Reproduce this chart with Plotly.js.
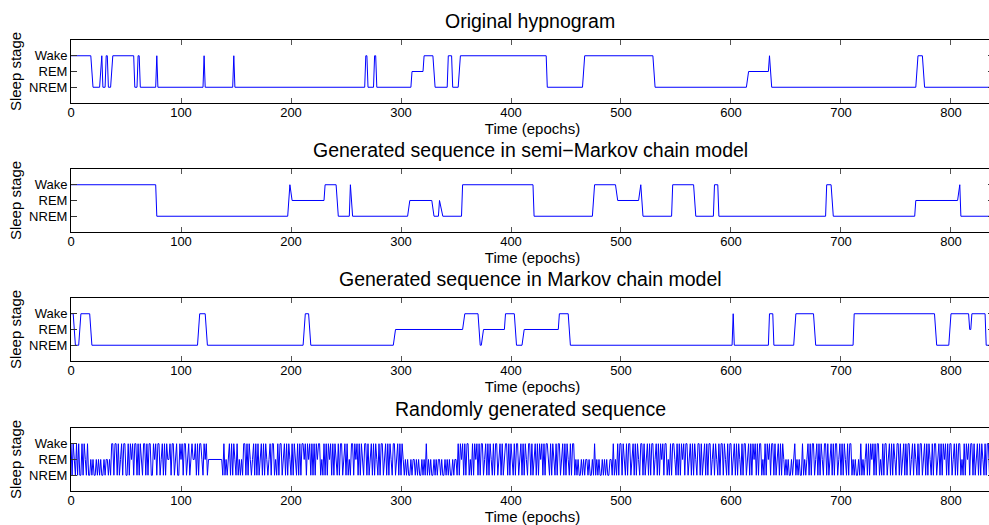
<!DOCTYPE html>
<html>
<head>
<meta charset="utf-8">
<script src="https://cdn.plot.ly/plotly-3.0.1.min.js"></script>
<style>
html,body{margin:0;padding:0;background:#fff;overflow:hidden;}
#chart{width:994px;height:525px;}
</style>
</head>
<body>
<div id="chart"></div>
<script>
// ---- data ----
const stageCodes = [0, 1, 2];
const stageLabels = ['NREM', 'REM', 'Wake'];
const xTicks = [0, 100, 200, 300, 400, 500, 600, 700, 800];
const panelTitles = [
  'Original hypnogram',
  'Generated sequence in semi\u2212Markov chain model',
  'Generated sequence in Markov chain model',
  'Randomly generated sequence'
];

// Original hypnogram: line vertices (epoch, stage)
const origEpochs = [0,18,20,26,28,29,31,32,33,34,36,38,57,58,60,61,62,63,77,78,79,120,121,122,147,148,149,267,268,269,270,275,276,277,278,309,310,320,321,329,331,342,343,346,347,352,354,432,433,465,467,529,531,614,616,634,635,637,768,770,774,776,840];
const origStages = [2,2,0,0,2,0,0,2,2,0,0,2,2,0,0,2,2,0,0,2,0,0,2,0,0,2,0,0,2,2,0,0,2,2,0,0,1,1,2,2,0,0,2,2,0,0,2,2,0,0,2,2,0,0,1,1,2,0,0,2,2,0,0];

// Semi-Markov generated sequence
const semiEpochs = [0,77,78,197,199,201,230,231,241,243,253,254,256,306,308,328,330,334,335,338,355,356,420,421,474,476,495,497,516,518,520,546,547,566,568,584,585,588,589,686,687,691,693,767,768,806,808,809,840];
const semiStages = [2,2,0,0,2,1,1,2,2,0,0,2,0,0,1,1,0,0,1,0,0,2,2,0,0,2,2,1,1,2,0,0,2,2,0,0,2,2,0,0,2,2,0,0,1,1,2,0,0];

// Markov generated sequence
const markovEpochs = [0,2,4,7,9,17,19,115,117,122,124,211,213,216,218,293,295,356,358,370,372,373,375,394,395,403,405,410,412,443,444,452,454,601,602,603,634,635,638,639,657,659,675,677,711,712,785,787,798,800,816,817,818,819,831,832,840];
const markovStages = [2,2,0,0,2,2,0,0,2,2,0,0,2,2,0,0,1,1,2,2,0,0,1,1,2,2,0,0,1,1,2,2,0,0,2,0,0,2,2,0,0,2,2,0,0,2,2,0,0,2,2,1,1,2,2,0,0];

// Randomly generated sequence: one stage per epoch (0..839)
const randomStages = [
2,0,2,1,0,2,0,2,0,0,2,0,2,1,0,2,0,0,
1,0,1,0,0,1,0,1,0,1,0,0,1,0,1,1,0,1,0,2,
2,0,2,2,0,2,0,1,2,0,2,2,0,0,2,0,2,1,2,0,2,2,0,2,0,2,1,0,2,2,0,2,0,2,2,
0,0,2,1,2,0,2,2,0,1,2,0,2,0,2,1,1,2,
0,2,2,0,1,2,0,0,2,1,2,0,2,2,0,1,2,0,1,2,1,1,2,0,2,0,2,2,1,0,2,1,2,0,1,1,
1,1,1,1,1,1,1,1,1,1,1,
0,2,0,1,0,1,2,0,2,0,2,1,0,2,0,1,0,1,0,2,2,0,2,0,2,1,0,1,2,0,2,0,2,0,1,2,0,2,0,2,1,0,1,2,
0,2,2,0,1,0,2,0,2,2,0,1,2,0,2,0,2,1,0,2,0,2,1,0,2,0,2,0,2,2,
1,2,0,2,1,2,0,2,0,2,0,2,1,2,2,0,1,0,2,0,2,0,2,1,2,0,2,0,
2,1,0,2,0,2,2,0,1,2,0,2,0,1,0,2,2,0,2,1,2,0,2,0,2,1,0,2,2,0,2,0,1,2,0,2,0,2,1,0,2,0,2,2,0,1,2,0,2,0,2,1,0,2,2,0,1,2,0,2,0,2,1,
0,1,0,1,0,0,1,0,1,1,0,1,0,1,0,0,1,0,1,0,2,0,1,0,1,0,0,1,0,1,0,1,1,0,1,0,0,1,0,1,0,1,0,0,1,0,1,1,0,
2,0,2,1,2,0,2,0,2,2,0,1,0,2,0,2,1,2,0,2,0,2,2,0,1,2,0,2,0,2,
1,0,2,0,2,2,0,1,2,0,2,0,1,2,2,0,2,0,2,1,0,2,0,2,2,0,1,2,0,2,
0,2,1,0,2,2,0,2,0,1,2,0,2,0,2,1,2,0,2,0,2,2,1,0,2,0,2,1,0,2,
0,2,2,0,1,2,0,2,0,2,1,0,2,0,2,2,
0,1,0,1,0,0,1,0,1,0,1,1,0,1,0,0,1,0,2,0,1,0,1,0,0,1,0,1,0,1,0,0,1,1,0,2,0,1,0,2,0,2,
2,0,2,1,0,2,0,2,2,0,1,2,0,2,0,2,1,0,2,2,0,2,0,1,2,0,2,0,2,2,
0,1,2,0,2,0,2,1,2,0,2,2,0,1,0,2,0,2,2,1,0,2,0,2,0,2,1,2,0,2,
2,0,1,2,0,2,0,2,1,0,2,2,0,2,0,1,2,0,2,0,2,2,0,1,2,0,2,1,0,2,
0,2,2,0,2,1,0,2,0,2,2,0,1,2,0,2,0,2,1,0,2,0,2,2,0,1,2,0,2,0,
2,1,2,0,2,0,2,2,0,1,0,2,0,2,1,2,0,2,2,0,2,0,1,2,0,2,0,2,1,0,
1,0,1,0,0,1,0,1,2,0,1,0,1,0,0,2,0,1,0,1,2,0,2,0,2,2,0,1,2,0,
2,0,2,1,0,2,2,0,2,0,1,2,0,2,0,2,2,0,1,2,0,2,0,2,1,0,2,0,2,2,
0,1,0,1,0,0,1,0,2,0,1,0,1,2,0,2,0,2,1,2,0,2,0,2,2,0,1,0,2,0,
2,2,0,1,2,0,2,0,2,1,0,2,2,0,2,0,1,2,0,2,0,2,2,0,1,2,0,2,1,0,
2,0,2,2,0,1,2,0,2,0,2,1,0,2,0,2,2,0,1,2,0,2,0,2,1,2,0,2,0,2,
2,0,1,2,0,2,0,2,2,0,1,0,2,0,2,1,2,0,2,2,0,2,0,1,2,0,2,0,2,1,0,2,0,2,2,
0,2,1,0,2
];

// ---- build ----
const randomEpochs = randomStages.map((_, i) => i);
const series = [
  [origEpochs, origStages],
  [semiEpochs, semiStages],
  [markovEpochs, markovStages],
  [randomEpochs, randomStages]
];
const domains = [
  [0.8038, 0.9238],
  [0.5581, 0.6781],
  [0.3124, 0.4324],
  [0.0648, 0.1848]
];
const FONT = 'Liberation Sans, Arial, Helvetica, sans-serif';

const traces = series.map((s, i) => ({
  x: s[0], y: s[1],
  type: 'scatter', mode: 'lines',
  line: {color: '#0000ff', width: 1},
  xaxis: i === 0 ? 'x' : 'x' + (i + 1),
  yaxis: i === 0 ? 'y' : 'y' + (i + 1),
  hoverinfo: 'x+y', showlegend: false
}));

const layout = {
  width: 994, height: 525,
  margin: {l: 71, r: 0, t: 0, b: 0},
  paper_bgcolor: '#ffffff', plot_bgcolor: '#ffffff',
  font: {family: FONT, size: 13, color: '#000'},
  showlegend: false,
  annotations: []
};

domains.forEach((d, i) => {
  const k = i === 0 ? '' : String(i + 1);
  layout['xaxis' + k] = {
    domain: [0, 1], range: [0, 839.1], anchor: 'y' + k,
    tickvals: xTicks, ticktext: xTicks.map(String),
    ticks: 'inside', ticklen: 5, tickcolor: '#555', tickwidth: 1,
    showline: true, linecolor: '#000', linewidth: 1, mirror: 'ticks',
    showgrid: false, zeroline: false,
    ticklabelstandoff: -3,
    tickfont: {family: FONT, size: 13, color: '#000'},
    title: {text: 'Time (epochs)', font: {family: FONT, size: 15, color: '#000'}, standoff: 0}
  };
  layout['yaxis' + k] = {
    domain: d, range: [-1, 3], anchor: 'x' + k,
    tickvals: stageCodes, ticktext: stageLabels,
    ticks: 'inside', ticklen: 6, tickcolor: '#333', tickwidth: 1,
    showline: true, linecolor: '#000', linewidth: 1, mirror: 'ticks',
    showgrid: false, zeroline: false,
    tickfont: {family: FONT, size: 13, color: '#000'},
    title: {text: 'Sleep stage', font: {family: FONT, size: 15, color: '#000'}, standoff: 3}
  };
  layout.annotations.push({
    text: panelTitles[i], xref: 'paper', yref: 'paper',
    x: (530 - 71) / (994 - 71), y: d[1], xanchor: 'center', yanchor: 'bottom',
    yshift: 6, showarrow: false,
    font: {family: FONT, size: 19.5, color: '#000'}
  });
});

Plotly.newPlot('chart', traces, layout, {staticPlot: true, displayModeBar: false});
</script>
</body>
</html>
